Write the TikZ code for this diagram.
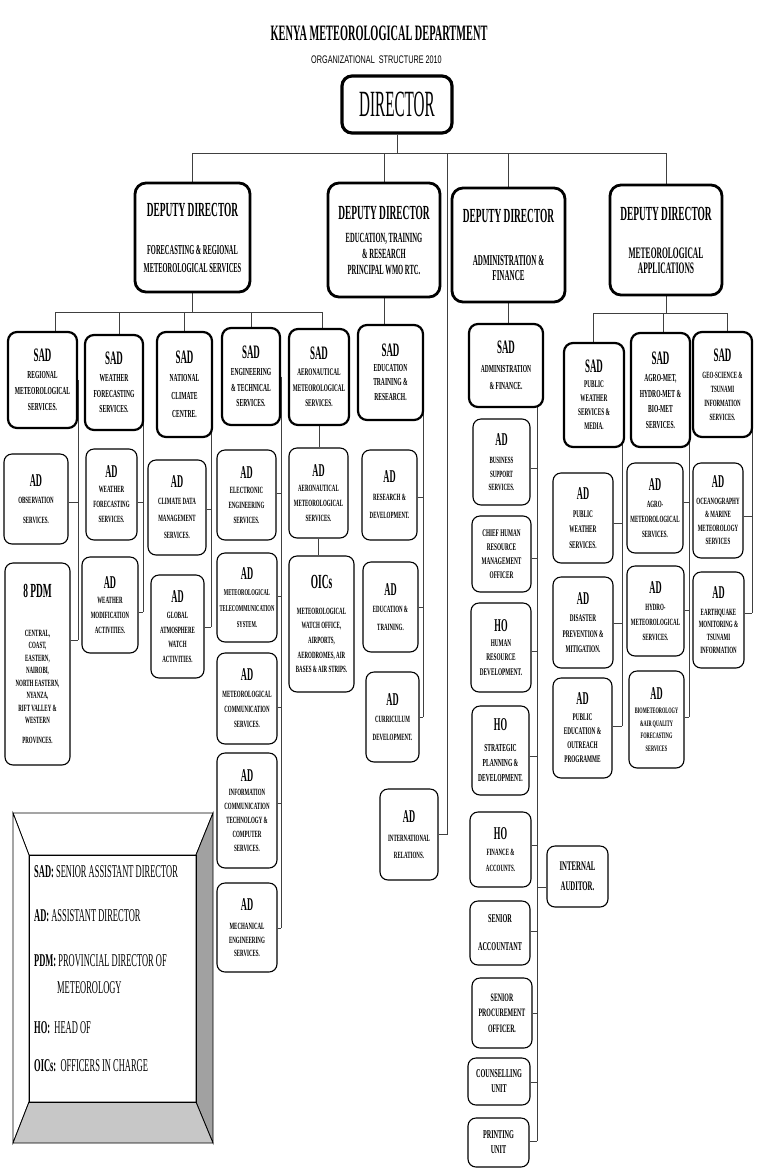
\documentclass[tikz,border=0pt]{standalone}
\usepackage{fontspec}
\setmainfont{Liberation Serif}
\newfontfamily\hdf[FakeStretch=0.47]{Liberation Serif}
\newfontfamily\dirf[FakeStretch=0.41]{Liberation Serif}
\newfontfamily\smf[FakeStretch=0.52]{Liberation Serif}
\newfontfamily\ssf[FakeStretch=0.66]{Liberation Sans}
\pgfdeclarelayer{bg}
\pgfsetlayers{bg,main}
\newcommand\HD[2]{{\hdf\bfseries\fontsize{#1}{#1}\selectfont #2}}
\newcommand\mkbox[7]{\node[#1,minimum width={(#5-#3)*1pt},minimum height={(#6-#4)*1pt}] (#2) at ({(#3+#5)/2},{(#4+#6)/2}) {#7};}
\newcommand\cn[3]{\draw[conn] (#1.east |- 0,#3) -- (#2 |- 0,#3);}
\newcommand\cw[3]{\draw[conn] (#1.west |- 0,#3) -- (#2 |- 0,#3);}
\tikzset{
  sz/.style 2 args={font={\smf\bfseries\fontsize{\fpeval{#1*1.19}}{#2}\selectfont}},
  hz/.style 2 args={font={\hdf\bfseries\fontsize{#1}{#2}\selectfont}},
  bxbase/.style={draw, fill=white, align=center, inner sep=0.5pt},
  adbox/.style={bxbase, rounded corners=8pt, line width=1.1pt, sz={8}{15}},
  sadbox/.style={bxbase, rounded corners=9pt, line width=2.2pt, sz={9}{14.5}},
  ddbox/.style={bxbase, rounded corners=11pt, line width=2.8pt},
  conn/.style={line width=0.9pt, black!75},
  legtext/.style={anchor=base west, inner sep=0pt, font={\hdf\fontsize{18}{18}\selectfont}}
}
\begin{document}
\begin{tikzpicture}[x=1pt,y=-1pt]
\useasboundingbox (0,0) rectangle (760,1176);
\begin{pgfonlayer}{bg}
\fill[white] (0,0) rectangle (760,1176);
\end{pgfonlayer}

% titles
\node[font={\hdf\bfseries\fontsize{22}{22}\selectfont}, anchor=base, inner sep=0pt] (title) at (379,40) {KENYA METEOROLOGICAL DEPARTMENT};
\node[font={\ssf\fontsize{11}{11}\selectfont}, anchor=base, inner sep=0pt] (subtitle) at (376.5,63) {ORGANIZATIONAL\ \ STRUCTURE 2010};

% director
\mkbox{ddbox,line width=3.2pt,rounded corners=10pt,font={\dirf\fontsize{37}{37}\selectfont}}{dir}{342}{76}{452}{133}{DIRECTOR}

% deputy directors
\mkbox{ddbox,hz={13.7}{18}}{dd1}{135}{183}{250}{292}{\HD{20}{DEPUTY DIRECTOR}\\[20pt]FORECASTING \& REGIONAL\\METEOROLOGICAL SERVICES}
\mkbox{ddbox,hz={14}{16}}{dd2}{328}{183}{440}{297}{\HD{20}{DEPUTY DIRECTOR}\\[7pt]EDUCATION, TRAINING\\\& RESEARCH\\PRINCIPAL WMO RTC.}
\mkbox{ddbox,hz={15}{15}}{dd3}{452}{188}{565}{302}{\HD{20}{DEPUTY DIRECTOR}\\[28pt]ADMINISTRATION \&\\FINANCE}
\mkbox{ddbox,hz={16}{15}}{dd4}{610}{185}{722}{295}{\HD{20}{DEPUTY DIRECTOR}\\[23pt]METEOROLOGICAL\\APPLICATIONS}

% SAD row
\mkbox{sadbox,sz={9}{16}}{sadreg}{8}{332}{77}{428}{\HD{19}{SAD}\\[1pt]REGIONAL\\METEOROLOGICAL\\SERVICES.}
\mkbox{sadbox,sz={9}{15.5}}{sadwf}{85}{335}{143}{430}{\HD{19}{SAD}\\[2pt]WEATHER\\FORECASTING\\SERVICES.}
\mkbox{sadbox,sz={9}{18}}{sadncc}{157}{332}{212}{437}{\HD{19}{SAD}\\NATIONAL\\CLIMATE\\CENTRE.}
\mkbox{sadbox,sz={9}{15.5}}{sadeng}{222}{328}{280}{425}{\HD{19}{SAD}\\[2pt]ENGINEERING\\\& TECHNICAL\\SERVICES.}
\mkbox{sadbox,sz={8.5}{15.5}}{sadaero}{289}{329}{349}{425}{\HD{19}{SAD}\\[1pt]AERONAUTICAL\\METEOROLOGICAL\\SERVICES.}
\mkbox{sadbox,sz={9}{14.5}}{sadedu}{358}{325}{423}{420}{\HD{19}{SAD}\\EDUCATION\\TRAINING \&\\RESEARCH.}
\mkbox{sadbox,sz={9}{17}}{sadadm}{469}{324}{543}{407}{\HD{19}{SAD}\\[2pt]ADMINISTRATION\\\& FINANCE.}
\mkbox{sadbox,sz={8.5}{14}}{sadpw}{564}{343}{624}{447}{\HD{19}{SAD}\\[1pt]PUBLIC\\WEATHER\\SERVICES \&\\MEDIA.}
\mkbox{sadbox,sz={9}{15.5}}{sadagro}{631}{333}{690}{447}{\HD{19}{SAD}\\[2pt]AGRO-MET,\\HYDRO-MET \&\\BIO-MET\\SERVICES.}
\mkbox{sadbox,sz={8}{14}}{sadgeo}{693}{332}{752}{437}{\HD{19}{SAD}\\[3pt]GEO-SCIENCE \&\\TSUNAMI\\INFORMATION\\SERVICES.}

% regional
\mkbox{adbox,sz={8}{20}}{obs}{4}{454}{68}{544}{\HD{18}{AD}\\[-3pt]OBSERVATION\\SERVICES.}
\mkbox{adbox,sz={8}{12.5}}{pdm}{5}{563}{70}{765}{\HD{20}{8 PDM}\\[26pt]CENTRAL,\\COAST,\\EASTERN,\\NAIROBI,\\NORTH EASTERN,\\NYANZA,\\RIFT VALLEY \&\\WESTERN\\[7pt]PROVINCES.}
% weather forecasting
\mkbox{adbox}{adwf}{86}{449}{137}{540}{\HD{18}{AD}\\WEATHER\\FORECASTING\\SERVICES.}
\mkbox{adbox}{adwm}{82}{557}{138}{653}{\HD{18}{AD}\\WEATHER\\MODIFICATION\\ACTIVITIES.}
% NCC
\mkbox{adbox,sz={8}{17}}{cdm}{148}{460}{206}{555}{\HD{18}{AD}\\CLIMATE DATA\\MANAGEMENT\\SERVICES.}
\mkbox{adbox,sz={8}{14.5}}{gaw}{151}{575}{204}{678}{\HD{18}{AD}\\[2pt]GLOBAL\\ATMOSPHERE\\WATCH\\ACTIVITIES.}
% engineering
\mkbox{adbox}{ele}{217}{450}{276}{540}{\HD{18}{AD}\\ELECTRONIC\\ENGINEERING\\SERVICES.}
\mkbox{adbox,sz={7.5}{16}}{tel}{217}{553}{277}{642}{\HD{18}{AD}\\METEOROLOGICAL\\TELECOMMUNICATION\\SYSTEM.}
\mkbox{adbox}{mco}{217}{653}{277}{744}{\HD{18}{AD}\\[2pt]METEOROLOGICAL\\COMMUNICATION\\SERVICES.}
\mkbox{adbox,sz={8}{14}}{ict}{217}{753}{277}{868}{\HD{18}{AD}\\INFORMATION\\COMMUNICATION\\TECHNOLOGY \&\\COMPUTER\\SERVICES.}
\mkbox{adbox,sz={8}{13.5}}{mech}{217}{883}{277}{972}{\HD{18}{AD}\\[6pt]MECHANICAL\\ENGINEERING\\SERVICES.}
% aeronautical
\mkbox{adbox}{adaero}{289}{448}{348}{538}{\HD{18}{AD}\\AERONAUTICAL\\METEOROLOGICAL\\SERVICES.}
\mkbox{adbox,sz={8}{14.7}}{oics}{289}{556}{354}{692}{\HD{20}{OICs}\\[11pt]METEOROLOGICAL\\WATCH OFFICE,\\AIRPORTS,\\AERODROMES, AIR\\BASES \& AIR STRIPS.}
% education
\mkbox{adbox,sz={8}{18}}{rd}{362}{450}{417}{540}{\HD{18}{AD}\\RESEARCH \&\\DEVELOPMENT.}
\mkbox{adbox,sz={8}{17.5}}{et}{363}{562}{418}{652}{\HD{18}{AD}\\EDUCATION \&\\TRAINING.}
\mkbox{adbox,sz={8}{17.5}}{cur}{366}{672}{419}{762}{\HD{18}{AD}\\CURRICULUM\\DEVELOPMENT.}
\mkbox{adbox,sz={8}{17}}{intl}{380}{789}{438}{880}{\HD{18}{AD}\\[2pt]INTERNATIONAL\\RELATIONS.}
% administration
\mkbox{adbox,sz={8}{13.5}}{bss}{473}{419}{530}{505}{\HD{18}{AD}\\[5pt]BUSINESS\\SUPPORT\\SERVICES.}
\mkbox{adbox,sz={8.5}{14}}{chr}{472}{516}{531}{592}{CHIEF HUMAN\\RESOURCE\\MANAGEMENT\\OFFICER}
\mkbox{adbox,sz={8.5}{14.5}}{hrd}{471}{603}{531}{692}{\HD{18}{HO}\\HUMAN\\RESOURCE\\DEVELOPMENT.}
\mkbox{adbox,sz={9}{15}}{spd}{472}{706}{529}{795}{\HD{18}{HO}\\[6pt]STRATEGIC\\PLANNING \&\\DEVELOPMENT.}
\mkbox{adbox,sz={8}{16}}{fin}{470}{812}{531}{887}{\HD{18}{HO}\\FINANCE \&\\ACCOUNTS.}
\mkbox{adbox,sz={11}{20}}{aud}{547}{846}{608}{907}{INTERNAL\\AUDITOR.}
\mkbox{adbox,sz={10}{28}}{sacc}{470}{901}{530}{965}{SENIOR\\ACCOUNTANT}
\mkbox{adbox,sz={9.5}{15.5}}{spo}{472}{978}{532}{1048}{SENIOR\\PROCUREMENT\\OFFICER.}
\mkbox{adbox,sz={10}{15}}{cu}{468}{1058}{530}{1105}{COUNSELLING\\UNIT}
\mkbox{adbox,sz={10}{15}}{pu}{468}{1118}{529}{1167}{PRINTING\\UNIT}
% public weather
\mkbox{adbox,sz={8.5}{15.5}}{pw}{553}{473}{613}{563}{\HD{18}{AD}\\[2pt]PUBLIC\\WEATHER\\SERVICES.}
\mkbox{adbox,sz={8.5}{15.5}}{dp}{553}{577}{613}{668}{\HD{18}{AD}\\[2pt]DISASTER\\PREVENTION \&\\MITIGATION.}
\mkbox{adbox,sz={8.5}{14}}{pe}{553}{678}{612}{778}{\HD{18}{AD}\\[2pt]PUBLIC\\EDUCATION \&\\OUTREACH\\PROGRAMME}
% agro
\mkbox{adbox,sz={8}{15}}{agro}{627}{463}{683}{553}{\HD{18}{AD}\\[2pt]AGRO-\\METEOROLOGICAL\\SERVICES.}
\mkbox{adbox,sz={8}{15}}{hydro}{627}{566}{684}{656}{\HD{18}{AD}\\[2pt]HYDRO-\\METEOROLOGICAL\\SERVICES.}
\mkbox{adbox,sz={7}{12.5}}{bio}{629}{671}{684}{768}{\HD{18}{AD}\\[2pt]BIOMETEOROLOGY\\\&AIR QUALITY\\FORECASTING\\SERVICES}
% geo
\mkbox{adbox,sz={8}{13.5}}{ocean}{693}{463}{743}{558}{\HD{18}{AD}\\[3pt]OCEANOGRAPHY\\\& MARINE\\METEOROLOGY\\SERVICES}
\mkbox{adbox,sz={8}{12.7}}{quake}{693}{572}{744}{668}{\HD{18}{AD}\\[4pt]EARTHQUAKE\\MONITORING \&\\TSUNAMI\\INFORMATION}

% legend
\filldraw[fill=white, line width=0.8pt] (13,813) -- (213,813) -- (196,855) -- (29,855) -- cycle;
\filldraw[fill=white, line width=0.8pt] (13,813) -- (29,855) -- (29,1102) -- (13,1143) -- cycle;
\filldraw[fill=black!37, line width=0.8pt] (213,813) -- (196,855) -- (196,1102) -- (213,1143) -- cycle;
\filldraw[fill=black!22, line width=0.8pt] (13,1143) -- (29,1102) -- (196,1102) -- (213,1143) -- cycle;
\draw[line width=0.8pt] (29,855) rectangle (196,1102);
\node[legtext] (leg1) at (34,877) {\textbf{SAD:} SENIOR ASSISTANT DIRECTOR};
\node[legtext] (leg2) at (34,921) {\textbf{AD:} ASSISTANT DIRECTOR};
\node[legtext] (leg3) at (34,966) {\textbf{PDM:} PROVINCIAL DIRECTOR\ OF};
\node[legtext] (leg4) at (57,993) {METEOROLOGY};
\node[legtext] (leg5) at (34,1033) {\textbf{HO:}\ \ HEAD OF};
\node[legtext] (leg6) at (34,1071) {\textbf{OICs:}\ \ OFFICERS IN CHARGE};

% connectors
\begin{pgfonlayer}{bg}
\coordinate (b0) at (397,153);
\coordinate (irs) at (447,153);
\draw[conn] (dir.south) -- (b0);
\draw[conn] (dd1.north) |- (b0);
\draw[conn] (dd4.north) |- (b0);
\draw[conn] (dd2.north) -- (dd2.north |- b0);
\draw[conn] (dd3.north) -- (dd3.north |- b0);
\draw[conn] (intl.east) -| (irs);
% DD1 bar
\coordinate (t1) at (55,312);
\coordinate (t2) at (119,312);
\coordinate (t3) at (184,312);
\coordinate (t4) at (251,312);
\coordinate (t5) at (322,312);
\draw[conn] (dd1.south) -- (dd1.south |- t1);
\draw[conn] (t1) -- (t5);
\draw[conn] (t1) -- (t1 |- sadreg.north);
\draw[conn] (t2) -- (t2 |- sadwf.north);
\draw[conn] (t3) -- (t3 |- sadncc.north);
\draw[conn] (t4) -- (t4 |- sadeng.north);
\draw[conn] (t5) -- (t5 |- sadaero.north);
% DD2, DD3
\draw[conn] (dd2.south) -- (dd2.south |- sadedu.north);
\draw[conn] (dd3.south) -- (dd3.south |- sadadm.north);
% DD4 bar
\coordinate (u1) at (593,313);
\coordinate (u2) at (663,313);
\coordinate (u3) at (727,313);
\draw[conn] (dd4.south) -- (dd4.south |- u1);
\draw[conn] (u1) -- (u3);
\draw[conn] (u1) -- (u1 |- sadpw.north);
\draw[conn] (u2) -- (u2 |- sadagro.north);
\draw[conn] (u3) -- (u3 |- sadgeo.north);
% spines
\coordinate (s1) at (78,640);
\draw[conn] (sadreg.center -| s1) -- (s1);
\cn{obs}{s1}{502}
\cn{pdm}{s1}{640}
\coordinate (s2) at (143,612);
\draw[conn] (sadwf.center -| s2) -- (s2);
\cn{adwf}{s2}{502}
\cn{adwm}{s2}{612}
\coordinate (s3) at (211,627);
\draw[conn] (sadncc.center -| s3) -- (s3);
\cn{cdm}{s3}{509}
\cn{gaw}{s3}{627}
\coordinate (s4) at (281,928);
\draw[conn] (sadeng.center -| s4) -- (s4);
\cn{ele}{s4}{493}
\cn{tel}{s4}{596}
\cn{mco}{s4}{707}
\cn{ict}{s4}{803}
\cn{mech}{s4}{928}
\draw[conn] (sadaero.south) -- (sadaero.south |- adaero.north);
\draw[conn] (adaero.south) -- (adaero.south |- oics.north);
\coordinate (s6) at (423,717);
\draw[conn] (sadedu.center -| s6) -- (s6);
\cn{rd}{s6}{497}
\cn{et}{s6}{607}
\cn{cur}{s6}{717}
\coordinate (s7) at (537,1141);
\draw[conn] (sadadm.center -| s7) -- (s7);
\cn{bss}{s7}{468}
\cn{chr}{s7}{558}
\cn{hrd}{s7}{651}
\cn{spd}{s7}{756}
\cn{fin}{s7}{845}
\cw{aud}{s7}{887}
\cn{sacc}{s7}{931}
\cn{spo}{s7}{1013}
\cn{cu}{s7}{1082}
\cn{pu}{s7}{1141}
\coordinate (s8) at (622,726);
\draw[conn] (sadpw.center -| s8) -- (s8);
\cn{pw}{s8}{523}
\cn{dp}{s8}{623}
\cn{pe}{s8}{726}
\coordinate (s9) at (689,717);
\draw[conn] (sadagro.center -| s9) -- (s9);
\cn{agro}{s9}{502}
\cn{hydro}{s9}{610}
\cn{bio}{s9}{717}
\coordinate (s10) at (752,613);
\draw[conn] (sadgeo.center -| s10) -- (s10);
\cn{ocean}{s10}{516}
\cn{quake}{s10}{613}
\end{pgfonlayer}
\end{tikzpicture}
\end{document}
